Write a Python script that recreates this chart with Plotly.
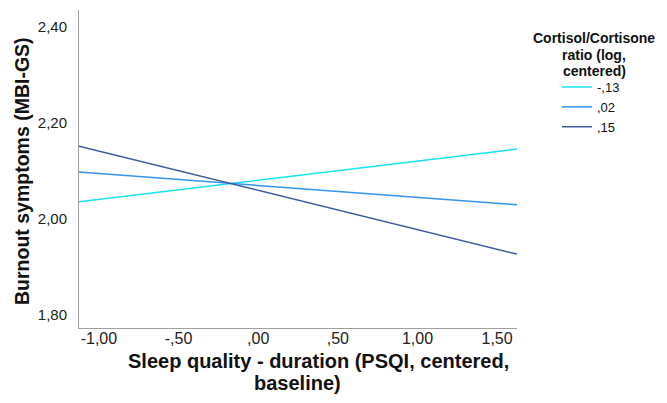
import plotly.graph_objects as go

# Data
x_range_ends = [-1.125, 1.625]
series_names = ["-,13", ",02", ",15"]
series_left = [2.035, 2.097, 2.151]
series_right = [2.145, 2.029, 1.926]
series_colors = ["#18E2F2", "#3394F0", "#3D5C9F"]

x_tickvals = [-1.0, -0.5, 0.0, 0.5, 1.0, 1.5]
x_ticktext = ["-1,00", "-,50", ",00", ",50", "1,00", "1,50"]
y_tickvals = [1.8, 2.0, 2.2, 2.4]
y_ticktext = ["1,80", "2,00", "2,20", "2,40"]
legend_title_lines = ["Cortisol/Cortisone", "ratio (log,", "centered)"]
x_title_lines = ["Sleep quality - duration (PSQI, centered,", "baseline)"]
y_title = "Burnout symptoms (MBI-GS)"

W, H = 659, 395
ML, MR, MT, MB = 71, 150, 2, 75
plot_w = W - ML - MR
plot_h = H - MT - MB


def px_x(px):
    return (px - ML) / plot_w


def px_y(py):
    return 1 - (py - MT) / plot_h


fig = go.Figure()
for name, y0, y1, c in zip(series_names, series_left, series_right, series_colors):
    fig.add_trace(go.Scatter(x=x_range_ends, y=[y0, y1], mode="lines", name=name,
                             line=dict(color=c, width=1.5)))

font = "Liberation Sans, Arial, sans-serif"

# legend title lines (tight line spacing like the original)
for txt, py in zip(legend_title_lines, [30, 47, 63]):
    fig.add_annotation(text=f"<b>{txt}</b>", xref="paper", yref="paper",
                       x=px_x(586), y=px_y(py), xanchor="center", yanchor="middle",
                       showarrow=False, font=dict(size=14, family=font, color="#111"))

# x-axis title lines
for txt, (px, py) in zip(x_title_lines, [(310, 353), (289, 375)]):
    fig.add_annotation(text=f"<b>{txt}</b>", xref="paper", yref="paper",
                       x=px_x(px), y=px_y(py), xanchor="center", yanchor="middle",
                       showarrow=False, font=dict(size=20, family=font, color="#111"))

# y-axis title
fig.add_annotation(text=f"<b>{y_title}</b>", xref="paper", yref="paper",
                   x=px_x(14), y=px_y(163), xanchor="center", yanchor="middle",
                   textangle=-90, showarrow=False,
                   font=dict(size=19.5, family=font, color="#111"))

fig.update_layout(
    width=W, height=H,
    margin=dict(l=ML, r=MR, t=MT, b=MB),
    paper_bgcolor="white", plot_bgcolor="white",
    font=dict(family=font, color="#222222"),
    showlegend=True,
    legend=dict(
        x=px_x(549), y=px_y(64), xanchor="left", yanchor="top",
        font=dict(size=13, family=font, color="#111"),
        itemwidth=30, tracegroupgap=0,
        bgcolor="rgba(0,0,0,0)",
    ),
    xaxis=dict(
        range=x_range_ends, tickvals=x_tickvals, ticktext=x_ticktext,
        showgrid=False, zeroline=False, showline=True, linecolor="#A0A0A0", linewidth=1,
        ticks="", ticklen=0, tickfont=dict(size=16, color="#222"), ticklabelstandoff=-4,
    ),
    yaxis=dict(
        range=[1.772, 2.435], tickvals=y_tickvals, ticktext=y_ticktext,
        showgrid=False, zeroline=False, showline=True, linecolor="#A0A0A0", linewidth=1,
        ticks="", tickfont=dict(size=15, color="#222"), ticklabelstandoff=8,
    ),
)

fig.write_html("out.html")
